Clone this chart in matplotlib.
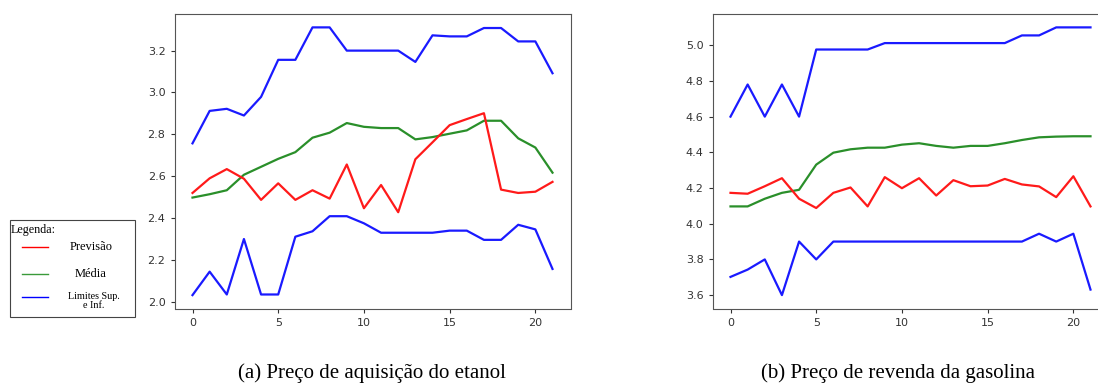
import matplotlib
matplotlib.use("Agg")
import matplotlib.pyplot as plt
from matplotlib.lines import Line2D
from matplotlib.patches import Rectangle

x = list(range(22))

# (a) Preco de aquisicao do etanol
etanol_sup = [2.757, 2.912, 2.922, 2.890, 2.979, 3.156, 3.156, 3.311, 3.311, 3.200, 3.200,
              3.200, 3.200, 3.146, 3.273, 3.268, 3.268, 3.308, 3.308, 3.244, 3.244, 3.092]
etanol_media = [2.498, 2.514, 2.533, 2.607, 2.645, 2.683, 2.715, 2.784, 2.808, 2.854, 2.836,
                2.830, 2.830, 2.776, 2.787, 2.803, 2.819, 2.865, 2.865, 2.781, 2.737, 2.617]
etanol_prev = [2.520, 2.590, 2.634, 2.588, 2.487, 2.566, 2.487, 2.533, 2.493, 2.656, 2.447,
               2.558, 2.428, 2.681, 2.762, 2.844, 2.873, 2.901, 2.536, 2.520, 2.526, 2.573]
etanol_inf = [2.032, 2.144, 2.035, 2.300, 2.035, 2.035, 2.311, 2.337, 2.409, 2.409, 2.375,
              2.330, 2.330, 2.330, 2.330, 2.340, 2.340, 2.296, 2.296, 2.368, 2.346, 2.157]

# (b) Preco de revenda da gasolina
gas_sup = [4.60, 4.78, 4.60, 4.78, 4.60, 4.976, 4.976, 4.976, 4.976, 5.012, 5.012,
           5.012, 5.012, 5.012, 5.012, 5.012, 5.012, 5.055, 5.055, 5.10, 5.10, 5.10]
gas_media = [4.097, 4.097, 4.140, 4.173, 4.190, 4.331, 4.398, 4.417, 4.426, 4.426, 4.443,
             4.451, 4.436, 4.426, 4.436, 4.436, 4.451, 4.469, 4.484, 4.488, 4.490, 4.490]
gas_prev = [4.173, 4.168, 4.210, 4.255, 4.140, 4.088, 4.173, 4.203, 4.097, 4.261, 4.199,
            4.255, 4.158, 4.244, 4.210, 4.214, 4.251, 4.220, 4.209, 4.149, 4.266, 4.097]
gas_inf = [3.702, 3.743, 3.80, 3.60, 3.90, 3.80, 3.90, 3.90, 3.90, 3.90, 3.90,
           3.90, 3.90, 3.90, 3.90, 3.90, 3.90, 3.90, 3.944, 3.90, 3.944, 3.631]

captions = ["(a) Preço de aquisição do etanol", "(b) Preço de revenda da gasolina"]
legend_labels = ["Previsão", "Média", "Limites Sup.\ne Inf."]

fig = plt.figure(figsize=(10.98, 3.83), dpi=100)
W, H = 1098, 383

def px_axes(l, t, r, b):
    return fig.add_axes([l / W, 1 - b / H, (r - l) / W, (b - t) / H])

ax1 = px_axes(174.5, 14, 570.5, 308.5)
ax2 = px_axes(712.5, 14, 1108.5, 308.5)

for ax, sup, med, prev, inf in [(ax1, etanol_sup, etanol_media, etanol_prev, etanol_inf),
                                (ax2, gas_sup, gas_media, gas_prev, gas_inf)]:
    ax.plot(x, sup, color="#1a1aff", lw=1.6)
    ax.plot(x, med, color="#2a8f2a", lw=1.6)
    ax.plot(x, prev, color="#ff1a1a", lw=1.6)
    ax.plot(x, inf, color="#1a1aff", lw=1.6)
    ax.set_xticks([0, 5, 10, 15, 20])
    ax.tick_params(labelsize=8, colors="#333333", length=3)
    for s in ax.spines.values():
        s.set_color("#555555")

ax1.set_yticks([2.0, 2.2, 2.4, 2.6, 2.8, 3.0, 3.2])
ax2.set_yticks([3.6, 3.8, 4.0, 4.2, 4.4, 4.6, 4.8, 5.0])

serif = "Liberation Serif"
fig.text(372 / W, 1 - 373 / H, captions[0], ha="center", va="center",
         family=serif, fontsize=15)
fig.text(898 / W, 1 - 373 / H, captions[1], ha="center", va="center",
         family=serif, fontsize=15)

# legend box
fig.add_artist(Rectangle((9.5 / W, 1 - 316.5 / H), (135 - 9.5) / W, (316.5 - 220) / H,
                         transform=fig.transFigure, fill=False, ec="#444444", lw=0.8))
fig.text(11 / W, 1 - 230 / H, "Legenda:", ha="left", va="center", family=serif, fontsize=8.7)
leg_y = [247, 274, 297]
leg_c = ["r", "#3a9a3a", "b"]
for yy, cc, lab in zip(leg_y, leg_c, legend_labels):
    two = "\n" in lab
    fig.add_artist(Line2D([22 / W, 48 / W], [1 - yy / H, 1 - yy / H],
                          transform=fig.transFigure, color=cc, lw=1))
    fig.text((94 if two else 91) / W, 1 - (yy + 4 if two else yy) / H, lab, ha="center",
             va="center", family=serif, fontsize=7.3 if two else 9,
             linespacing=0.9)

fig.savefig("out.png", dpi=100)
